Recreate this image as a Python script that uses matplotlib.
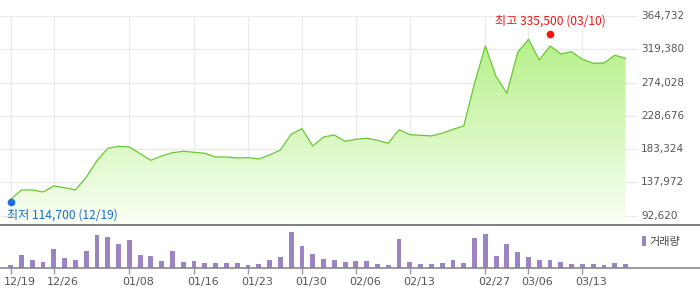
import matplotlib
matplotlib.use('Agg')
import matplotlib.pyplot as plt
import numpy as np
from matplotlib.colors import LinearSegmentedColormap
from matplotlib.patches import Polygon, Patch
from matplotlib.transforms import ScaledTranslation

matplotlib.rcParams['font.family'] = ['DejaVu Sans']
KR = ['Noto Sans CJK KR', 'DejaVu Sans']

# closing price per trading day
close = [114700, 127640, 127640, 124920, 133100, 130780, 127640, 144950, 167570, 184460,
         187190, 186240, 177110, 168120, 173970, 178470, 180380, 179010, 177650, 172610,
         172610, 171250, 171700, 169880, 175330, 182150, 203540, 211180, 187600, 199860,
         202590, 194000, 196730, 198090, 195370, 191280, 209810, 203000, 202180, 201230,
         204900, 210360, 214860, 273040, 323870, 282040, 259420, 315290, 332990, 304800,
         323870, 312970, 316100, 305750, 300300, 300700, 311200, 307100]

# relative trading volume per day
volume = [3, 13, 8, 6, 19, 10, 8, 17, 33, 31,
          24, 28, 13, 12, 7, 17, 6, 7, 5, 5,
          5, 5, 3, 4, 8, 11, 36, 22, 14, 9,
          8, 6, 7, 7, 4, 3, 29, 6, 4, 4,
          5, 8, 5, 30, 34, 12, 24, 16, 11, 8,
          8, 6, 4, 4, 4, 3, 5, 4]

tick_idx = [0, 4, 11, 17, 22, 27, 32, 37, 44, 48, 53]
tick_labels = ['12/19', '12/26', '01/08', '01/16', '01/23', '01/30',
               '02/06', '02/13', '02/27', '03/06', '03/13']

y_ticks = [92620, 137972, 183324, 228676, 274028, 319380, 364732]
y_labels = ['92,620', '137,972', '183,324', '228,676', '274,028', '319,380', '364,732']

high_idx, high_val, high_text = 50, 335500, '최고 335,500 (03/10)'
low_idx, low_val, low_text = 0, 114700, '최저 114,700 (12/19)'


def main():
    fig = plt.figure(figsize=(7.0, 2.89), dpi=100)
    fig.patch.set_facecolor('white')

    x = np.arange(len(close))
    n = len(close)
    xl = (-0.99, n - 1 + 6.9)
    grid_end = n - 1 + 1.07
    label_x = n - 1 + 1.44

    ax = fig.add_axes([0, 64 / 289, 1, 209 / 289])
    axv = fig.add_axes([0, 21 / 289, 1, 42 / 289])

    step = y_ticks[1] - y_ticks[0]
    ylo, yhi = y_ticks[0] - step * 0.28, y_ticks[-1]

    # grid
    ax.hlines(y_ticks, xl[0], grid_end, color='#ebebeb', lw=1, zorder=0)
    ax.vlines(tick_idx, ylo, yhi, color='#ebebeb', lw=1, zorder=0)

    # gradient area under the line
    cmap = LinearSegmentedColormap.from_list('g', ['#fafff5', '#aeee7c'])
    grad = np.linspace(0, 1, 256).reshape(-1, 1)
    img = ax.imshow(grad, extent=[x[0], x[-1], ylo, yhi], aspect='auto',
                    cmap=cmap, origin='lower', zorder=1)
    verts = [(x[0], ylo)] + list(zip(x, close)) + [(x[-1], ylo)]
    poly = Polygon(verts, closed=True, facecolor='none', edgecolor='none')
    ax.add_patch(poly)
    img.set_clip_path(poly)

    ax.plot(x, close, color='#66c832', lw=0.9, zorder=3)

    # high / low markers
    ax.plot(high_idx, high_val, 'o', color='#ff1010', ms=4.5, zorder=4,
            transform=ax.transData + ScaledTranslation(0, 3 / 100, fig.dpi_scale_trans))
    ax.plot(low_idx, low_val, 'o', color='#1a6ee0', ms=4.5, zorder=4,
            transform=ax.transData + ScaledTranslation(0, -3 / 100, fig.dpi_scale_trans))
    ax.annotate(high_text, (high_idx, high_val), xytext=(0, 16), textcoords='offset pixels',
                ha='center', va='center', fontsize=8.7, color='#f01818', family=KR)
    ax.annotate(low_text, (low_idx, low_val), xytext=(-3.5, -15.5), textcoords='offset pixels',
                ha='left', va='center', fontsize=8.7, color='#1a6ed0', family=KR)

    for v, s in zip(y_ticks, y_labels):
        ax.text(label_x, v, s, ha='left', va='center', fontsize=7.5, color='#555555')

    ax.set_xlim(*xl)
    ax.set_ylim(ylo, yhi)
    ax.set_xticks([])
    ax.set_yticks([])
    for k in ('top', 'left', 'right'):
        ax.spines[k].set_visible(False)
    ax.spines['bottom'].set_color('#70757a')
    ax.spines['bottom'].set_linewidth(1.3)

    # volume bars
    axv.bar(x, volume, width=0.45, color='#9b84c4', zorder=2)
    axv.set_xlim(*xl)
    axv.set_ylim(0, max(volume) * 42 / 36)
    axv.set_yticks([])
    axv.set_xticks(tick_idx)
    axv.set_xticklabels([])
    axv.tick_params(axis='x', length=4, width=1, color='#999999')
    for i, s in zip(tick_idx, tick_labels):
        axv.annotate(s, (i, 0), xycoords=axv.get_xaxis_transform(),
                     xytext=(-7, -14), textcoords='offset pixels',
                     ha='left', va='center', fontsize=8, color='#555555')
    for k in ('top', 'left', 'right'):
        axv.spines[k].set_visible(False)
    axv.spines['bottom'].set_color('#888888')
    axv.spines['bottom'].set_linewidth(1.2)

    axv.legend(handles=[Patch(facecolor='#9b84c4', label='거래량')],
               loc='upper right', bbox_to_anchor=(686 / 700, 1 - 230 / 289),
               bbox_transform=fig.transFigure, frameon=False, borderpad=0,
               handlelength=0.35, handleheight=1.1, handletextpad=0.3,
               prop={'family': KR, 'size': 8}, labelcolor='#444444')

    fig.savefig('out.png', dpi=100, facecolor='white')


if __name__ == '__main__':
    main()
